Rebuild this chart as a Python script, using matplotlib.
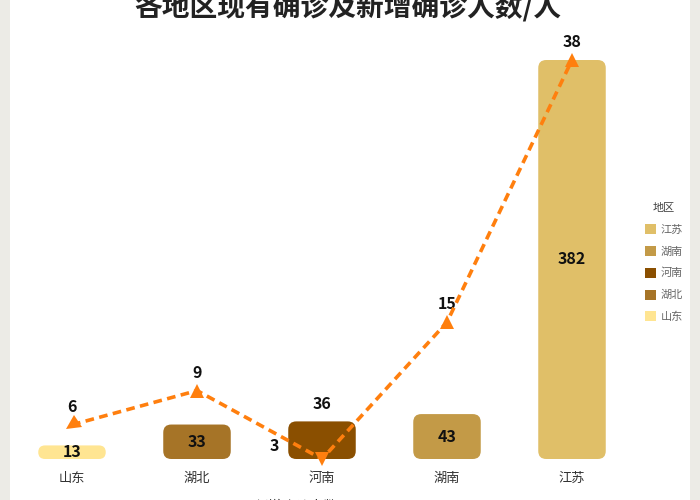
import matplotlib
matplotlib.use('Agg')
import matplotlib.pyplot as plt
from matplotlib.patches import FancyBboxPatch, Patch, Rectangle
from matplotlib.markers import MarkerStyle
from matplotlib.transforms import Affine2D

plt.rcParams['font.family'] = ['Noto Sans CJK SC', 'DejaVu Sans']

# 数据
regions = ['山东', '湖北', '河南', '湖南', '江苏']
current_cases = [13, 33, 36, 43, 382]
new_cases = [6, 9, 3, 15, 38]
bar_colors = ['#FFE592', '#A67427', '#8A4F00', '#C39A47', '#E0BF68']
marker_rot = [125, 0, 180, 0, 0]

W, H = 700, 500
fig = plt.figure(figsize=(7, 5), dpi=100)
fig.patch.set_facecolor('#ECEBE6')
# 白色面板
fig.patches.append(Rectangle((10 / W, 0), 680 / W, 1, transform=fig.transFigure,
                             facecolor='white', edgecolor='none', zorder=-5))

ax = fig.add_axes([9.5 / W, 41 / H, 625 / W, 399 / H])
ax.set_facecolor('none')
ax.set_xlim(-0.5, len(regions) - 0.5)
ax.set_ylim(0, max(current_cases))
for s in ax.spines.values():
    s.set_visible(False)
ax.set_yticks([])
ax.set_xticks(range(len(regions)))
ax.set_xticklabels(regions, fontsize=9.5, color='#333333')
ax.tick_params(axis='x', length=0, pad=9)

# 圆角柱子
bars = ax.bar(range(len(regions)), current_cases, width=0.54, color=bar_colors)
aspect = (max(current_cases) / 399) / (len(regions) / 625)
for rect, c in zip(bars, bar_colors):
    rect.set_visible(False)
    r = min(0.064, rect.get_height() / aspect / 2, rect.get_width() / 2)
    p = FancyBboxPatch((rect.get_x(), rect.get_y()), rect.get_width(), rect.get_height(),
                       boxstyle=f'round,pad=0,rounding_size={r}', mutation_aspect=aspect,
                       facecolor=c, edgecolor='none', zorder=2)
    ax.add_patch(p)

for i, v in enumerate(current_cases):
    if regions[i] == '河南':
        ax.annotate(str(v), (i, v), xytext=(0, 9), textcoords='offset pixels',
                    ha='center', va='bottom', fontsize=11.5, fontweight='bold', color='#111111')
    else:
        ax.text(i, v / 2, str(v), ha='center', va='center', fontsize=11.5,
                fontweight='bold', color='#111111', zorder=3)

# 折线
ax2 = ax.twinx()
ax2.set_ylim(min(new_cases), max(new_cases))
ax2.axis('off')
ax2.plot(range(len(regions)), new_cases, color='#FF7F0E', lw=2.6,
         linestyle=(0, (2.4, 1.5)), zorder=4)
for i, v in enumerate(new_cases):
    m = MarkerStyle('^', transform=Affine2D().rotate_deg(marker_rot[i]))
    ax2.plot([i], [v], marker=m, markersize=10, color='#FF7F0E', markeredgewidth=0,
             clip_on=False, zorder=5)
    if regions[i] == '河南':
        ax2.annotate(str(v), (i, v), xytext=(-48, 13), textcoords='offset pixels',
                     ha='center', va='center', fontsize=11.5, fontweight='bold', color='#111111')
    else:
        ax2.annotate(str(v), (i, v), xytext=(0, 18), textcoords='offset pixels',
                     ha='center', va='center', fontsize=11.5, fontweight='bold', color='#111111')

# 标题
fig.text(348 / W, 1 - 8 / H, '各地区现有确诊及新增确诊人数/人', ha='center', va='center',
         fontsize=20, fontweight='bold', color='#222222')

# 图例
handles = [Patch(facecolor=bar_colors[i], edgecolor='none', label=regions[i])
           for i in range(len(regions) - 1, -1, -1)]
leg = fig.legend(handles=handles, title='地区', loc='upper left',
                 bbox_to_anchor=(637 / W, 1 - 195 / H), frameon=False,
                 fontsize=8, title_fontsize=8, handlelength=1.0, handleheight=1.0,
                 handletextpad=0.4, labelspacing=1.0, borderpad=0.2)
for t in leg.get_texts():
    t.set_color('#666666')
leg.get_title().set_color('#444444')

# 底部被截断的图例文字
fig.text(296 / W, -7 / H, '新增确诊人数', ha='center', va='center', fontsize=10, color='#333333')

fig.savefig('out.png', dpi=100)
